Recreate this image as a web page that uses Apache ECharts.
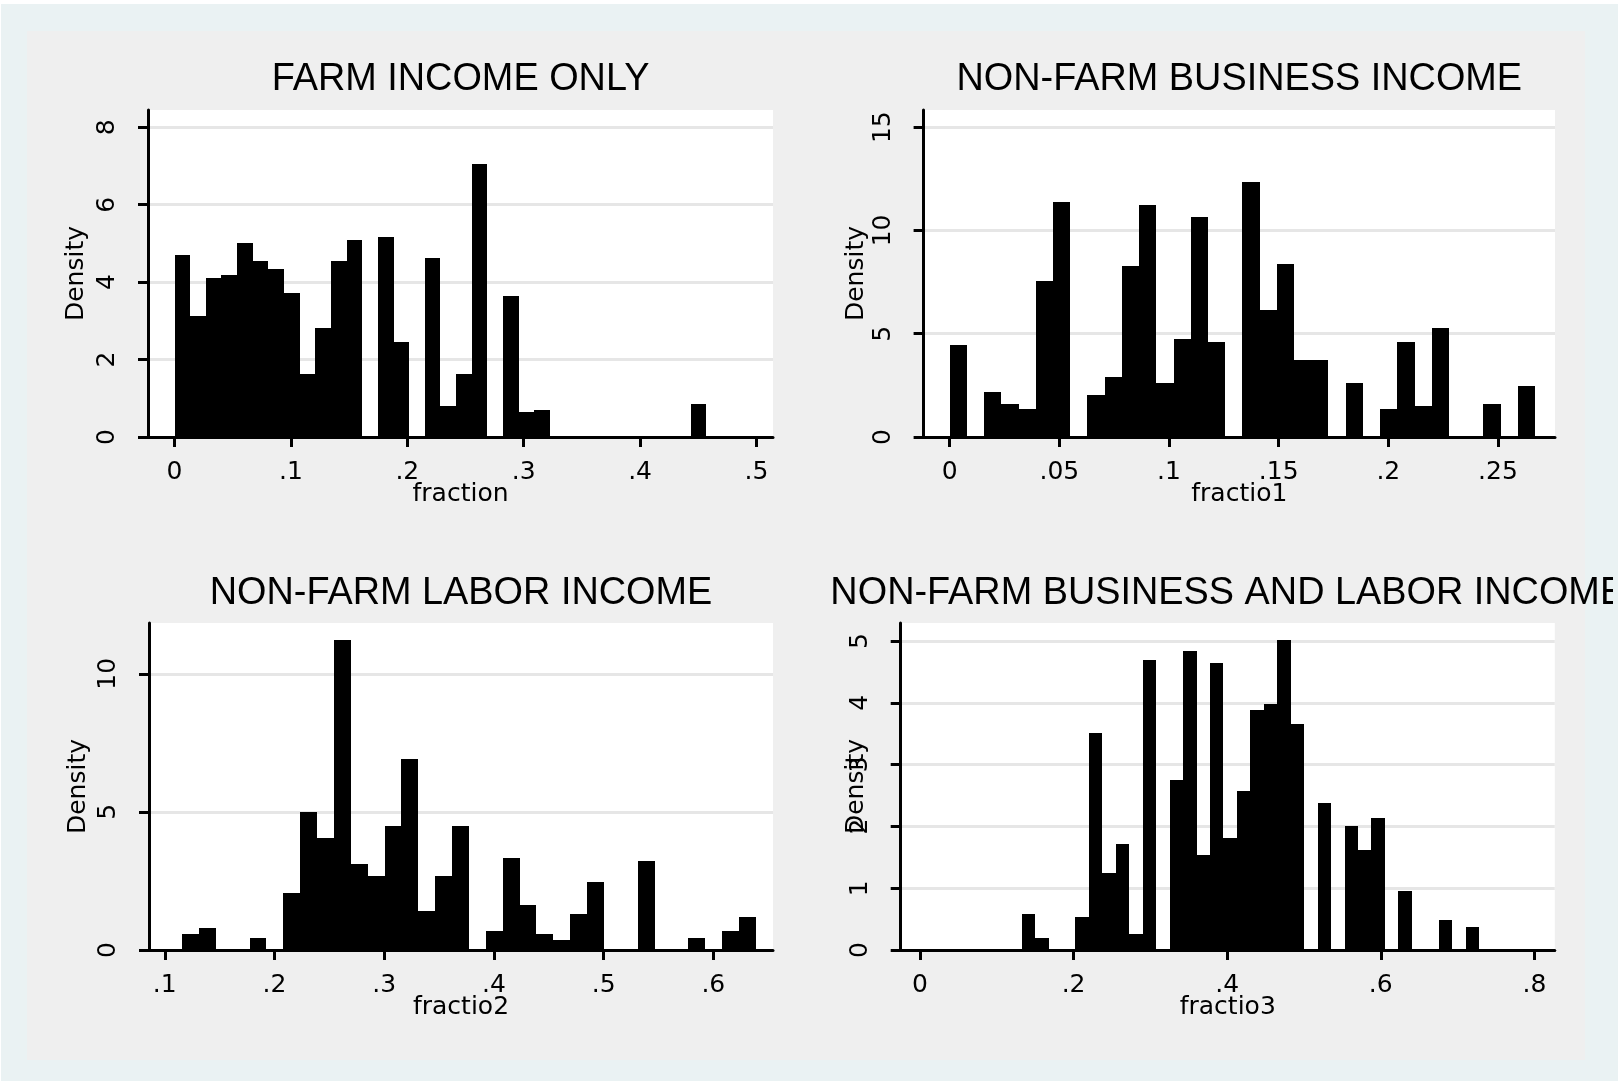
<!DOCTYPE html>
<html>
<head>
<meta charset="utf-8">
<script src="https://cdn.jsdelivr.net/npm/echarts@6/dist/echarts.min.js"></script>
<style>
  html, body { margin: 0; padding: 0; background: #fff; }
  #chart { width: 1618px; height: 1081px; }
</style>
</head>
<body>
<div id="chart"></div>
<script>
// ---- Panel titles and variable names ----
const panelTitles = ['FARM INCOME ONLY', 'NON-FARM BUSINESS INCOME', 'NON-FARM LABOR INCOME', 'NON-FARM BUSINESS AND LABOR INCOME'];
const xNames = ['fraction', 'fractio1', 'fractio2', 'fractio3'];
const yName = 'Density';

// ---- Histogram bins: first bin edge, bin width, density per bin ----
const farmBinStart = 0, farmBinWidth = 0.01344;
const farmDensity = [4.69, 3.13, 4.11, 4.18, 5.00, 4.54, 4.33, 3.71, 1.62, 2.81, 4.54, 5.08, 0, 5.16, 2.45, 0,
  4.63, 0.79, 1.62, 7.05, 0, 3.63, 0.64, 0.71, 0, 0, 0, 0, 0, 0, 0, 0, 0, 0.84];

const businessBinStart = 0, businessBinWidth = 0.00785;
const businessDensity = [4.44, 0, 2.16, 1.58, 1.34, 7.54, 11.37, 0, 2.02, 2.89, 8.27, 11.22, 2.60, 4.73, 10.64, 4.59, 0,
  12.34, 6.14, 8.36, 3.71, 3.71, 0, 2.60, 0, 1.34, 4.59, 1.49, 5.26, 0, 0, 1.58, 0, 2.45];

const laborBinStart = 0.1158, laborBinWidth = 0.01538;
const laborDensity = [0.575, 0.79, 0, 0, 0.45, 0, 2.06, 5.00, 4.05, 11.22, 3.11, 2.69, 4.49, 6.91, 1.40, 2.69, 4.49, 0,
  0.69, 3.33, 1.63, 0.575, 0.35, 1.31, 2.46, 0, 0, 3.23, 0, 0, 0.45, 0, 0.69, 1.19];

const bothBinStart = 0.1324, bothBinWidth = 0.01752;
const bothDensity = [0.58, 0.20, 0, 0, 0.53, 3.51, 1.25, 1.72, 0.26, 4.69, 0, 2.75, 4.84, 1.53, 4.65, 1.82, 2.57, 3.88,
  3.98, 5.02, 3.66, 0, 2.38, 0, 2.01, 1.62, 2.13, 0, 0.955, 0, 0, 0.48, 0, 0.38];

// ---- Tick values and their labels ----
const farmXTicks = [0, 0.1, 0.2, 0.3, 0.4, 0.5];
const farmXLabels = ['0', '.1', '.2', '.3', '.4', '.5'];
const farmYTicks = [0, 2, 4, 6, 8];
const farmYLabels = ['0', '2', '4', '6', '8'];

const businessXTicks = [0, 0.05, 0.1, 0.15, 0.2, 0.25];
const businessXLabels = ['0', '.05', '.1', '.15', '.2', '.25'];
const businessYTicks = [0, 5, 10, 15];
const businessYLabels = ['0', '5', '10', '15'];

const laborXTicks = [0.1, 0.2, 0.3, 0.4, 0.5, 0.6];
const laborXLabels = ['.1', '.2', '.3', '.4', '.5', '.6'];
const laborYTicks = [0, 5, 10];
const laborYLabels = ['0', '5', '10'];

const bothXTicks = [0, 0.2, 0.4, 0.6, 0.8];
const bothXLabels = ['0', '.2', '.4', '.6', '.8'];
const bothYTicks = [0, 1, 2, 3, 4, 5];
const bothYLabels = ['0', '1', '2', '3', '4', '5'];

// ---- Layout of the four plot regions (pixels) and visible axis ranges ----
const layout = [
  { left: 148,   top: 110, width: 625,   height: 327, xMin: -0.0228, xMax: 0.5142, yMax: 8.447, yStep: 2, yNameGap: 59,   titleY: 79 },
  { left: 923.6, top: 110, width: 631.4, height: 327, xMin: -0.0119, xMax: 0.2760, yMax: 15.83, yStep: 5, yNameGap: 54.6, titleY: 79 },
  { left: 149,   top: 623, width: 624,   height: 327, xMin: 0.0856,  xMax: 0.6544, yMax: 11.84, yStep: 5, yNameGap: 58.5, titleY: 593.5 },
  { left: 900.7, top: 623, width: 654.1, height: 327, xMin: -0.0251, xMax: 0.8266, yMax: 5.293, yStep: 1, yNameGap: 31.7, titleY: 593.5 }
];

const panels = [
  { start: farmBinStart, width: farmBinWidth, density: farmDensity, xt: farmXTicks, xl: farmXLabels, yt: farmYTicks, yl: farmYLabels },
  { start: businessBinStart, width: businessBinWidth, density: businessDensity, xt: businessXTicks, xl: businessXLabels, yt: businessYTicks, yl: businessYLabels },
  { start: laborBinStart, width: laborBinWidth, density: laborDensity, xt: laborXTicks, xl: laborXLabels, yt: laborYTicks, yl: laborYLabels },
  { start: bothBinStart, width: bothBinWidth, density: bothDensity, xt: bothXTicks, xl: bothXLabels, yt: bothYTicks, yl: bothYLabels }
];

const SMALL_FONT = 'DejaVu Sans';
const TITLE_FONT = '"Liberation Sans", Arial, sans-serif';
const OUTER = '#eaf2f3';
const INNER = '#efefef';
const GRIDLINE = '#e6e6e6';

function labelFor(ticks, labels) {
  return function (v) {
    for (let k = 0; k < ticks.length; k++) {
      if (Math.abs(ticks[k] - v) < 1e-9) return labels[k];
    }
    return '';
  };
}

// each bar: [left edge, right edge, density]
function binRows(p) {
  return p.density.map((d, k) => [p.start + k * p.width, p.start + (k + 1) * p.width, d]);
}

// bars snapped to whole pixels so neighbouring bins join without seams
function renderBar(params, api) {
  const h = api.value(2);
  if (!h) return null;
  const topLeft = api.coord([api.value(0), h]);
  const bottomRight = api.coord([api.value(1), 0]);
  const x0 = Math.round(topLeft[0]), x1 = Math.round(bottomRight[0]);
  const y0 = Math.round(topLeft[1]), y1 = Math.round(bottomRight[1]);
  return {
    type: 'rect',
    shape: { x: x0, y: y0, width: x1 - x0, height: y1 - y0 },
    style: { fill: '#000' }
  };
}

const axisLineStyle = { color: '#000', width: 3 };
const smallText = { fontFamily: SMALL_FONT, fontSize: 25, color: '#000' };

const grids = [], xAxes = [], yAxes = [], series = [], graphics = [];

panels.forEach((p, i) => {
  const g = layout[i];
  grids.push({
    left: g.left, top: g.top, width: g.width, height: g.height,
    show: true, backgroundColor: '#fff', borderWidth: 0,
    containLabel: false, outerBoundsMode: 'none'
  });
  xAxes.push({
    type: 'value', gridIndex: i, min: g.xMin, max: g.xMax,
    name: xNames[i], nameLocation: 'middle', nameGap: 45, nameMoveOverlap: false,
    nameTextStyle: smallText,
    axisLine: { show: true, onZero: false, lineStyle: axisLineStyle },
    axisTick: { show: true, length: 10, customValues: p.xt, lineStyle: axisLineStyle },
    axisLabel: Object.assign({ customValues: p.xt, formatter: labelFor(p.xt, p.xl), margin: 23, hideOverlap: false }, smallText),
    splitLine: { show: false }
  });
  yAxes.push({
    type: 'value', gridIndex: i, min: 0, max: g.yMax, interval: g.yStep,
    name: yName, nameLocation: 'middle', nameGap: g.yNameGap, nameRotate: 90, nameMoveOverlap: false,
    nameTextStyle: smallText,
    axisLine: { show: true, onZero: false, lineStyle: axisLineStyle },
    axisTick: { show: true, length: 10, customValues: p.yt, lineStyle: axisLineStyle },
    axisLabel: Object.assign({ customValues: p.yt, formatter: labelFor(p.yt, p.yl), rotate: 90, margin: 28, hideOverlap: false }, smallText),
    splitLine: { show: true, showMinLine: false, lineStyle: { color: GRIDLINE, width: 3 } }
  });
  series.push({
    type: 'custom', xAxisIndex: i, yAxisIndex: i,
    data: binRows(p), encode: { x: [0, 1], y: 2 },
    renderItem: renderBar, silent: true, clip: true, z: 3
  });
  graphics.push({
    type: 'text', x: g.left + g.width / 2, y: g.titleY, scaleX: 0.958, z: 110,
    style: {
      text: panelTitles[i], fill: '#000',
      font: '39.5px ' + TITLE_FONT,
      align: 'center', verticalAlign: 'middle',
      textAlign: 'center', textVerticalAlign: 'middle'
    }
  });
});

// frame around the combined graph; the long lower-right title runs over it and stops at x=1613
graphics.push(
  { type: 'rect', z: 100, silent: true, shape: { x: 0, y: 0, width: 1618, height: 4 }, style: { fill: '#fff' } },
  { type: 'rect', z: 100, silent: true, shape: { x: 0, y: 0, width: 1, height: 1081 }, style: { fill: '#fff' } },
  { type: 'rect', z: 100, silent: true, shape: { x: 1, y: 4, width: 1617, height: 27 }, style: { fill: OUTER } },
  { type: 'rect', z: 100, silent: true, shape: { x: 1, y: 4, width: 26, height: 1077 }, style: { fill: OUTER } },
  { type: 'rect', z: 100, silent: true, shape: { x: 1585, y: 4, width: 33, height: 1077 }, style: { fill: OUTER } },
  { type: 'rect', z: 100, silent: true, shape: { x: 1, y: 1060, width: 1617, height: 21 }, style: { fill: OUTER } },
  { type: 'rect', z: 120, silent: true, shape: { x: 1613, y: 540, width: 5, height: 110 }, style: { fill: OUTER } }
);

const chart = echarts.init(document.getElementById('chart'), null, { renderer: 'canvas' });
chart.setOption({
  animation: false,
  backgroundColor: INNER,
  grid: grids,
  xAxis: xAxes,
  yAxis: yAxes,
  series: series,
  graphic: { elements: graphics }
});
</script>
</body>
</html>
